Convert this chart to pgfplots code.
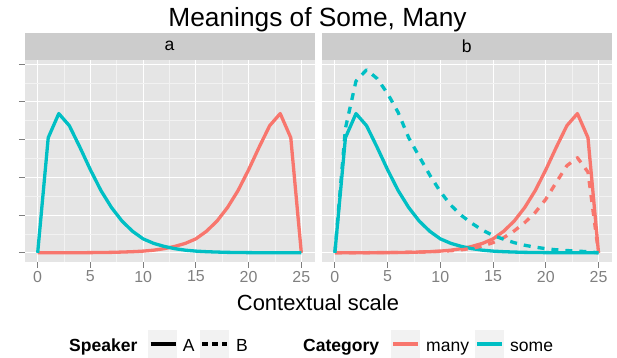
\documentclass[border=0pt]{standalone}
\usepackage{pgfplots}
\usepackage{pgfplotstable}
\pgfplotsset{compat=1.18}
\usepackage{fontspec}
\setmainfont{Liberation Sans}
\definecolor{panelgray}{HTML}{E5E5E5}
\definecolor{stripgray}{HTML}{CCCCCC}
\definecolor{minorgray}{HTML}{F2F2F2}
\definecolor{tickgray}{HTML}{7F7F7F}
\definecolor{keygray}{HTML}{F2F2F2}
\definecolor{cmany}{HTML}{F8766D}
\definecolor{csome}{HTML}{00BFC4}

\pgfplotstableread{
x  someA   manyA   someB  manyB
0  0       0       0      0
1  3.05    0.0005  3.30   0.002
2  3.69    0.001   4.55   0.003
3  3.37    0.002   4.85   0.004
4  2.80    0.003   4.62   0.006
5  2.20    0.005   4.22   0.008
6  1.65    0.008   3.72   0.011
7  1.20    0.012   3.05   0.015
8  0.84    0.02    2.55   0.02
9  0.57    0.03    2.06   0.03
10 0.37    0.045   1.62   0.04
11 0.25    0.07    1.26   0.055
12 0.17    0.11    0.99   0.08
13 0.11    0.17    0.78   0.12
14 0.07    0.25    0.60   0.18
15 0.045   0.37    0.46   0.27
16 0.03    0.57    0.36   0.40
17 0.02    0.84    0.27   0.58
18 0.012   1.20    0.20   0.80
19 0.008   1.65    0.15   1.07
20 0.005   2.20    0.11   1.42
21 0.003   2.80    0.08   1.87
22 0.002   3.37    0.06   2.31
23 0.001   3.69    0.045  2.52
24 0.0005  3.05    0.03   2.14
25 0       0       0      0
}\data

\pgfplotsset{
  facet/.style={
    scale only axis, width=290bp, height=202bp,
    xmin=-1.25, xmax=26.25, ymin=-0.2435, ymax=5.11,
    xtick={0,5,...,25}, ytick={0,1,...,5}, yticklabels={},
    minor xtick={2.5,7.5,...,22.5}, minor ytick={0.5,1.5,...,4.5},
    grid=both,
    major grid style={white, line width=1.1bp},
    minor grid style={minorgray, line width=0.55bp},
    axis line style={draw=none},
    axis background/.style={fill=panelgray},
    tick align=outside, xtick pos=bottom, ytick pos=left,
    major tick length=5.5bp, minor tick length=0pt,
    tick style={tickgray, line width=1bp},
    tick label style={font=\fontsize{16}{16}\selectfont, text=tickgray},
    /pgf/number format/assume math mode=true,
    every axis title/.style={at={(0.5,1)}, anchor=south, fill=stripgray,
      minimum width=290bp, minimum height=27bp, inner sep=0pt,
      font=\fontsize{17.6}{17.6}\selectfont},
  },
  ln/.style={line width=3.3bp, line join=round},
  dl/.style={line width=3.3bp, line join=round, dash pattern=on 7bp off 7bp},
}

\begin{document}
\begin{tikzpicture}
\useasboundingbox (0,0) rectangle (617bp,-358bp);
\begin{axis}[facet, at={(24.5bp,-262bp)}, anchor=south west, title={a}]
\addplot[cmany, ln] table[x=x, y=manyA]{\data};
\addplot[csome, ln] table[x=x, y=someA]{\data};
\end{axis}
\begin{axis}[facet, at={(321.7bp,-262bp)}, anchor=south west, title={b},
  ytick style={draw=none}]
\addplot[cmany, ln] table[x=x, y=manyA]{\data};
\addplot[csome, ln] table[x=x, y=someA]{\data};
\addplot[cmany, dl] table[x=x, y=manyB]{\data};
\addplot[csome, dl] table[x=x, y=someB]{\data};
\end{axis}
\node[anchor=base, inner sep=0pt, font=\fontsize{26.4}{26.4}\selectfont] at (317.5bp,-26.7bp) {Meanings of Some, Many};
\node[anchor=base, inner sep=0pt, font=\fontsize{22}{22}\selectfont] at (318bp,-310bp) {Contextual scale};
% legend
\begin{scope}[every node/.style={anchor=base west, inner sep=0pt, font=\fontsize{17.6}{17.6}\selectfont}]
\node[font=\fontsize{17.6}{17.6}\selectfont\bfseries] at (69bp,-351bp) {Speaker};
\fill[keygray] (148.3bp,-330bp) rectangle (176.7bp,-358bp);
\draw[black, line width=3.3bp] (150.7bp,-344bp) -- (175.7bp,-344bp);
\node at (182.7bp,-351bp) {A};
\fill[keygray] (200bp,-330bp) rectangle (229bp,-358bp);
\draw[black, line width=3.3bp, dash pattern=on 6bp off 4bp] (202bp,-344bp) -- (227bp,-344bp);
\node at (236bp,-351bp) {B};
\node[font=\fontsize{17.6}{17.6}\selectfont\bfseries] at (303bp,-351bp) {Category};
\fill[keygray] (390.7bp,-330bp) rectangle (420bp,-358bp);
\draw[cmany, line width=3.3bp] (393bp,-344bp) -- (418bp,-344bp);
\node at (426bp,-351bp) {many};
\fill[keygray] (475bp,-330bp) rectangle (504bp,-358bp);
\draw[csome, line width=3.3bp] (477bp,-344bp) -- (502bp,-344bp);
\node at (510bp,-351bp) {some};
\end{scope}
\end{tikzpicture}
\end{document}
